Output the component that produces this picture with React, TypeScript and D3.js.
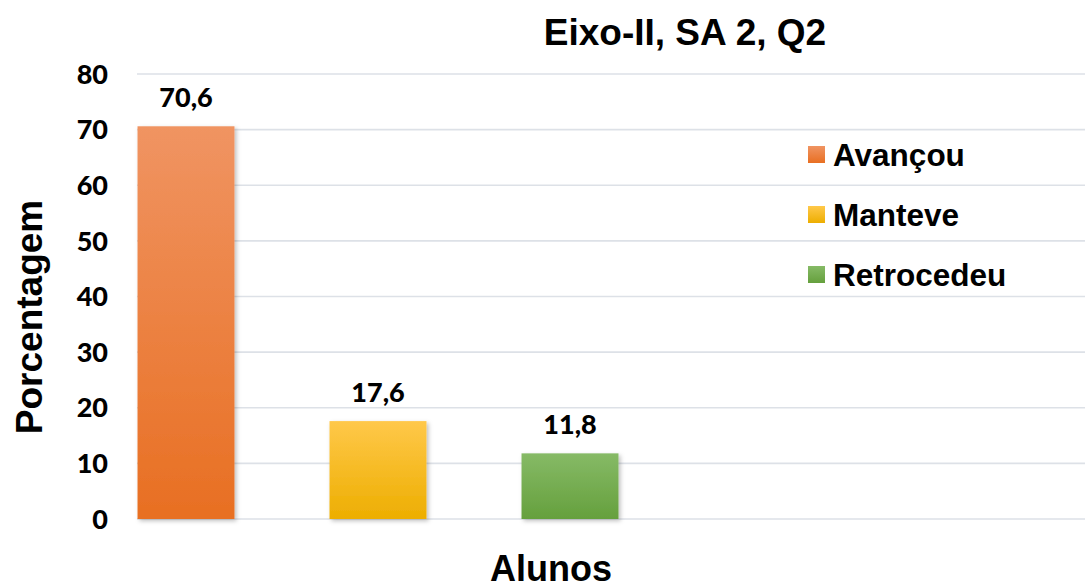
import React from 'react';
import * as d3 from 'd3';

// chart values
const series = ['Avançou', 'Manteve', 'Retrocedeu'];
const values = [70.6, 17.6, 11.8];
const yTicks = [0, 10, 20, 30, 40, 50, 60, 70, 80];
const gradTop = ['#f09462', '#ffc84a', '#86ba66'];
const gradBottom = ['#e86f22', '#edae00', '#65a03d'];

const W = 1085;
const H = 583;

const App = () => {
  const y = d3.scaleLinear().domain([0, 80]).range([519, 74]);

  // bars centred at ~186, 378, 570
  const x = d3.scaleBand()
    .domain(series)
    .range([90, 666])
    .paddingInner(0.495)
    .paddingOuter(0.2475);

  const fmt = (v: number) => d3.format('.1f')(v).replace('.', ',');

  const legendY = d3.scalePoint().domain(series).range([155, 275]);

  return (
    <svg width={W} height={H} style={{ position: 'absolute', left: 0, top: 0, background: '#fff' }}>
      <defs>
        {series.map((s, i) => (
          <linearGradient key={s} id={`g${i}`} x1="0" y1="0" x2="0" y2="1">
            <stop offset="0%" stopColor={gradTop[i]} />
            <stop offset="100%" stopColor={gradBottom[i]} />
          </linearGradient>
        ))}
        <filter id="shadow" x="-10%" y="-10%" width="130%" height="130%">
          <feDropShadow dx="2" dy="2" stdDeviation="2" floodColor="#000" floodOpacity="0.25" />
        </filter>
      </defs>

      {/* gridlines */}
      {yTicks.map(t => (
        <line key={t} x1={137} x2={W} y1={y(t)} y2={y(t)} stroke="#dde1e7" strokeWidth={1.6} />
      ))}

      {/* y tick labels */}
      {yTicks.map(t => (
        <text key={t} x={108} y={y(t)} dy="0.36em" textAnchor="end"
          fontFamily="Lato" fontWeight={900} fontSize={27} fill="#000">{t}</text>
      ))}

      {/* bars */}
      {series.map((s, i) => (
        <rect key={s} x={x(s)} y={y(values[i])} width={x.bandwidth()} height={y(0) - y(values[i])}
          fill={`url(#g${i})`} filter="url(#shadow)" />
      ))}

      {/* data labels */}
      {series.map((s, i) => (
        <text key={s} x={(x(s) as number) + x.bandwidth() / 2} y={y(values[i]) - 19} textAnchor="middle"
          fontFamily="Lato" fontWeight={900} fontSize={27} fill="#000">{fmt(values[i])}</text>
      ))}

      {/* legend */}
      {series.map((s, i) => (
        <g key={s} transform={`translate(808, ${legendY(s)})`}>
          <rect x={0} y={-9} width={17} height={17} fill={`url(#g${i})`} />
          <text x={25} y={0} dy="0.36em" fontFamily="Liberation Sans, Arial" fontWeight="bold"
            fontSize={31.5} fill="#000">{s}</text>
        </g>
      ))}

      {/* title */}
      <text x={685} y={45} textAnchor="middle" fontFamily="Liberation Sans, Arial" fontWeight="bold"
        fontSize={37} fill="#000">Eixo-II, SA 2, Q2</text>

      {/* axis titles */}
      <text transform="translate(42, 317) rotate(-90)" textAnchor="middle" fontFamily="Liberation Sans, Arial"
        fontWeight="bold" fontSize={37} fill="#000">Porcentagem</text>
      <text x={551} y={581} textAnchor="middle" fontFamily="Liberation Sans, Arial" fontWeight="bold"
        fontSize={36} fill="#000">Alunos</text>
    </svg>
  );
};

export default App;
